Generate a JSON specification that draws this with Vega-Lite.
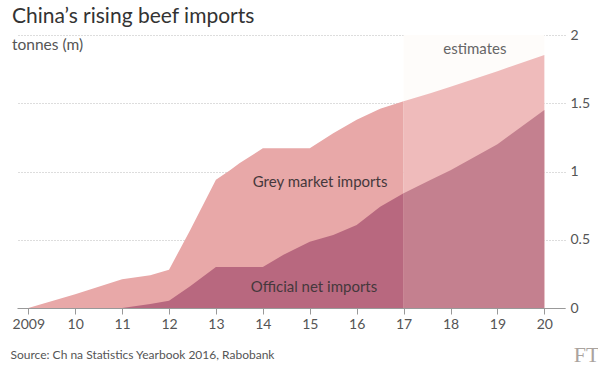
{
  "$schema": "https://vega.github.io/schema/vega-lite/v6.json",
  "width": 548,
  "height": 273,
  "autosize": {"type": "none"},
  "padding": {"left": 17, "top": 35, "right": 33, "bottom": 57},
  "background": "white",
  "config": {"font": "Lato", "view": {"stroke": null}},
  "title": {
    "text": "China’s rising beef imports",
    "subtitle": "tonnes (m)",
    "anchor": "start",
    "frame": "group",
    "font": "Lato",
    "fontSize": 21,
    "fontWeight": "normal",
    "color": "#333333",
    "subtitleFont": "Lato",
    "subtitleFontSize": 15.5,
    "subtitleColor": "#555555",
    "subtitlePadding": 11,
    "offset": -25,
    "dx": -5
  },
  "datasets": {
    "imports": [
      {"year": 2009, "official": 0, "total": 0, "period": "actual"},
      {"year": 2010, "official": 0, "total": 0.1, "period": "actual"},
      {"year": 2011, "official": 0, "total": 0.21, "period": "actual"},
      {"year": 2011.6, "official": 0.03, "total": 0.24, "period": "actual"},
      {"year": 2012, "official": 0.053, "total": 0.28, "period": "actual"},
      {"year": 2012.45, "official": 0.16, "total": 0.57, "period": "actual"},
      {"year": 2013, "official": 0.3, "total": 0.94, "period": "actual"},
      {"year": 2013.3, "official": 0.3, "total": 1.01, "period": "actual"},
      {"year": 2013.5, "official": 0.3, "total": 1.06, "period": "actual"},
      {"year": 2014, "official": 0.3, "total": 1.17, "period": "actual"},
      {"year": 2014.44, "official": 0.39, "total": 1.17, "period": "actual"},
      {"year": 2015, "official": 0.486, "total": 1.17, "period": "actual"},
      {"year": 2015.5, "official": 0.535, "total": 1.28, "period": "actual"},
      {"year": 2016, "official": 0.608, "total": 1.38, "period": "actual"},
      {"year": 2016.5, "official": 0.742, "total": 1.46, "period": "actual"},
      {"year": 2017, "official": 0.84, "total": 1.515, "period": "actual"},
      {"year": 2017, "official": 0.84, "total": 1.515, "period": "estimate"},
      {"year": 2017.57, "official": 0.938, "total": 1.573, "period": "estimate"},
      {"year": 2018, "official": 1.01, "total": 1.62, "period": "estimate"},
      {"year": 2019, "official": 1.2, "total": 1.735, "period": "estimate"},
      {"year": 2020, "official": 1.45, "total": 1.853, "period": "estimate"}
    ],
    "labels": [
      {"label": "estimates", "year": 2018.52, "value": 1.9, "kind": "light"},
      {"label": "Grey market imports", "year": 2015.22, "value": 0.923, "kind": "dark"},
      {"label": "Official net imports", "year": 2015.09, "value": 0.154, "kind": "dark"}
    ],
    "estimateSpan": [
      {"start": 2017, "end": 2020, "low": 0, "high": 2}
    ]
  },
  "encoding": {
    "x": {
      "type": "quantitative",
      "scale": {"domain": [2008.76, 2020.44], "nice": false, "zero": false},
      "axis": {
        "values": [2009, 2010, 2011, 2012, 2013, 2014, 2015, 2016, 2017, 2018, 2019, 2020],
        "labelExpr": "datum.value == 2009 ? '2009' : substring(toString(datum.value), 2)",
        "grid": false,
        "domainColor": "#999999",
        "tickColor": "#999999",
        "tickSize": 6,
        "labelFontSize": 14,
        "labelColor": "#555555",
        "labelPadding": 3,
        "title": "Source: Ch na Statistics Yearbook 2016, Rabobank",
        "titleX": -7,
        "titleY": 46,
        "titleAlign": "left",
        "titleBaseline": "middle",
        "titleFontSize": 12,
        "titleFontWeight": "normal",
        "titleColor": "#555555",
        "titleAnchor": null
      }
    },
    "y": {
      "type": "quantitative",
      "scale": {"domain": [0, 2], "nice": false},
      "axis": {
        "orient": "right",
        "values": [0, 0.5, 1, 1.5, 2],
        "format": "~g",
        "grid": true,
        "gridColor": "#bbbbbb",
        "gridDash": [1, 2],
        "domain": false,
        "ticks": false,
        "labelPadding": 5,
        "labelFontSize": 14,
        "labelColor": "#555555",
        "title": "FT",
        "titleAngle": 0,
        "titleX": 21,
        "titleY": 319,
        "titleAlign": "center",
        "titleBaseline": "middle",
        "titleFont": "Liberation Serif",
        "titleFontSize": 22,
        "titleFontWeight": "normal",
        "titleColor": "#aaa39e"
      }
    }
  },
  "layer": [
    {
      "data": {"name": "estimateSpan"},
      "mark": {"type": "rect", "color": "#fefcfa"},
      "encoding": {
        "x": {"field": "start"},
        "x2": {"field": "end"},
        "y": {"field": "low"},
        "y2": {"field": "high"}
      }
    },
    {
      "data": {"name": "imports"},
      "mark": {"type": "area", "opacity": 1},
      "encoding": {
        "x": {"field": "year"},
        "y": {"field": "total", "stack": null},
        "color": {
          "field": "period",
          "type": "nominal",
          "scale": {"domain": ["actual", "estimate"], "range": ["#e8a8a8", "#efbbbb"]},
          "legend": null
        }
      }
    },
    {
      "data": {"name": "imports"},
      "mark": {"type": "area", "opacity": 1},
      "encoding": {
        "x": {"field": "year"},
        "y": {"field": "official", "stack": null},
        "fill": {
          "field": "period",
          "type": "nominal",
          "scale": {"domain": ["actual", "estimate"], "range": ["#b8687f", "#c4808f"]},
          "legend": null
        }
      }
    },
    {
      "data": {"name": "labels"},
      "mark": {"type": "text", "fontSize": 15, "align": "center", "baseline": "middle"},
      "encoding": {
        "x": {"field": "year"},
        "y": {"field": "value"},
        "text": {"field": "label"},
        "color": {
          "field": "kind",
          "type": "nominal",
          "scale": {"domain": ["light", "dark"], "range": ["#666666", "#45383c"]},
          "legend": null
        }
      }
    }
  ],
  "resolve": {"scale": {"color": "independent"}}
}
